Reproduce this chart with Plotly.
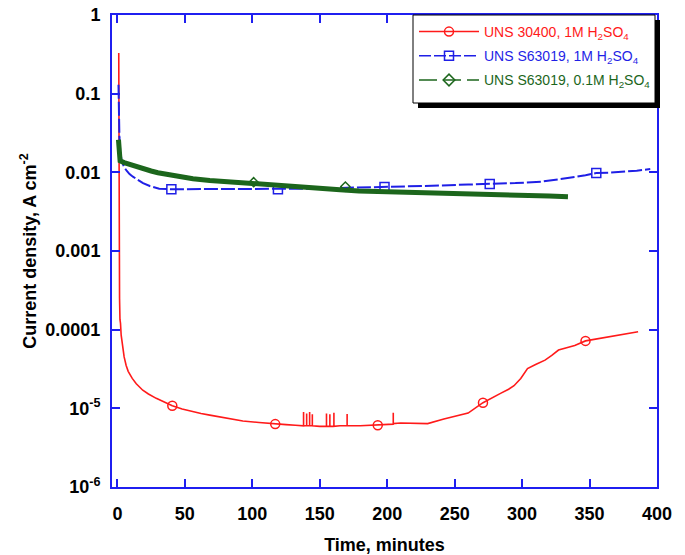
import plotly.graph_objects as go

# ---- UNS 30400 in 1M H2SO4 (minutes, A cm^-2)
t_304 = [1.0, 1.1, 1.3, 1.6, 1.9, 2.3, 2.8, 3.3, 4, 5, 6.5, 8, 11, 14, 18.8, 23, 28.8, 35,
         40.7, 48, 55, 62, 68.5, 80, 93, 105, 117, 125, 132, 136,
         138, 138, 138, 140.3, 140.3, 140.3, 142.5, 142.5, 142.5, 144.5, 144.5, 144.5,
         150, 155, 155, 155, 157.5, 157.5, 157.5, 160.5, 160.5, 160.5, 165, 170.3, 170.3, 170.3,
         180, 193, 200, 204.5, 204.5, 204.5, 210, 220, 230, 242, 250, 260, 271, 278, 284,
         290, 294, 299, 304, 310, 317, 322, 327, 333, 339, 347, 353, 359, 366, 373, 380, 386]
i_304 = [0.33, 0.02, 1.5e-3, 2.5e-4, 1.35e-4, 1.2e-4, 8.5e-5, 7.0e-5, 5.7e-5, 4.5e-5, 3.5e-5,
         2.95e-5, 2.4e-5, 2.05e-5, 1.7e-5, 1.52e-5, 1.34e-5, 1.2e-5,
         1.08e-5, 9.8e-6, 9.1e-6, 8.6e-6, 8.2e-6, 7.5e-6, 6.9e-6, 6.6e-6, 6.3e-6, 6.2e-6, 6.1e-6, 6.0e-6,
         6.0e-6, 9.0e-6, 6.0e-6, 6.0e-6, 8.6e-6, 6.0e-6, 6.0e-6, 9.0e-6, 6.0e-6, 6.0e-6, 8.4e-6, 6.0e-6,
         5.9e-6, 5.9e-6, 8.6e-6, 5.9e-6, 5.9e-6, 8.4e-6, 5.9e-6, 5.9e-6, 8.8e-6, 5.9e-6, 6.0e-6, 6.0e-6, 8.5e-6, 6.0e-6,
         6.0e-6, 6.1e-6, 6.2e-6, 6.3e-6, 8.8e-6, 6.4e-6, 6.5e-6, 6.5e-6, 6.4e-6, 7.3e-6, 7.9e-6, 8.7e-6, 1.18e-5, 1.38e-5, 1.55e-5,
         1.75e-5, 1.94e-5, 2.4e-5, 3.2e-5, 3.6e-5, 4.1e-5, 4.7e-5, 5.5e-5, 5.9e-5, 6.3e-5, 7.2e-5, 7.5e-5, 7.85e-5, 8.3e-5, 8.7e-5, 9.0e-5, 9.4e-5]
t_304_mk = [40.7, 117, 193, 271, 347]
i_304_mk = [1.08e-5, 6.3e-6, 6.1e-6, 1.18e-5, 7.2e-5]

# ---- UNS S63019 in 1M H2SO4
t_s1 = [0.8, 1.0, 1.1, 1.5, 2, 3, 4, 5, 7, 9, 11.5, 14, 19, 24, 31, 40, 60, 80, 100, 119,
        140, 160, 180, 198, 220, 240, 260, 276, 295, 314, 327, 339, 347, 355, 365, 375, 385, 395]
i_s1 = [0.13, 0.07, 0.032, 0.028, 0.02, 0.0145, 0.0128, 0.0116, 0.0104, 0.0095, 0.0088, 0.0082,
        0.0073, 0.0067, 0.0062, 0.0061, 0.0061, 0.0061, 0.0061, 0.0061,
        0.0062, 0.0063, 0.0064, 0.0065, 0.0066, 0.0068, 0.0070, 0.0071, 0.0073, 0.0076, 0.0081,
        0.0087, 0.0092, 0.0098, 0.0099, 0.0101, 0.0105, 0.0110]
t_s1_mk = [40, 119, 198, 276, 355]
i_s1_mk = [0.0061, 0.0061, 0.0065, 0.0071, 0.0098]

# ---- UNS S63019 in 0.1M H2SO4
t_s01 = [0.8, 1.0, 1.3, 2, 5, 10, 15, 19, 25, 30, 37, 44, 56, 68.5, 85, 101, 120, 143, 165,
         179, 200, 220, 240, 260, 280, 300, 320, 334]
i_s01 = [0.026, 0.02, 0.015, 0.0140, 0.0133, 0.0124, 0.0116, 0.0110, 0.0104, 0.0099, 0.0094,
         0.0089, 0.0083, 0.0079, 0.0075, 0.0073, 0.0069, 0.0064, 0.0060,
         0.0058, 0.0057, 0.0056, 0.0054, 0.0053, 0.0052, 0.0051, 0.0050, 0.0049]
t_s01_mk = [101, 169]
i_s01_mk = [0.0075, 0.0066]

x_ticks = [0, 50, 100, 150, 200, 250, 300, 350, 400]
y_ticks = [1, 0.1, 0.01, 0.001, 0.0001, 1e-5, 1e-6]
y_tick_text = ["1", "0.1", "0.01", "0.001", "0.0001", "10<sup>-5</sup>", "10<sup>-6</sup>"]

RED = "#ff1a1a"
BLUE = "#1f1fe6"
GREEN = "#1c661c"
FRAME = "#1f1ff0"
FONT = "Liberation Sans, Arial, sans-serif"

series = [
    dict(name="UNS 30400, 1M H<sub>2</sub>SO<sub>4</sub>", color=RED, t=t_304, i=i_304,
         tm=t_304_mk, im=i_304_mk, symbol="circle-open", msize=9, width=1.6, dash="solid", grp="a"),
    dict(name="UNS S63019, 1M H<sub>2</sub>SO<sub>4</sub>", color=BLUE, t=t_s1, i=i_s1,
         tm=t_s1_mk, im=i_s1_mk, symbol="square-open", msize=9, width=2.0, dash="14px,3px", grp="b"),
    dict(name="UNS S63019, 0.1M H<sub>2</sub>SO<sub>4</sub>", color=GREEN, t=t_s01, i=i_s01,
         tm=t_s01_mk, im=i_s01_mk, symbol="diamond-open", msize=7, width=5.0, dash="solid", grp="c"),
]

fig = go.Figure()
for s in series:
    fig.add_trace(go.Scatter(x=s["t"], y=s["i"], mode="lines", showlegend=False,
                             legendgroup=s["grp"],
                             line=dict(color=s["color"], width=s["width"], dash=s["dash"])))
    fig.add_trace(go.Scatter(x=s["tm"], y=s["im"], mode="markers", showlegend=False,
                             legendgroup=s["grp"],
                             marker=dict(symbol=s["symbol"], size=s["msize"], color=s["color"],
                                         line=dict(width=1.5, color=s["color"]))))
for s, d in zip(series, ["solid", "12px,3px", "18px,6px"]):
    fig.add_trace(go.Scatter(x=[None], y=[None], mode="lines+markers", legendgroup=s["grp"],
                             name=f'<span style="color:{s["color"]}">{s["name"]}</span>',
                             line=dict(color=s["color"], width=1.5, dash=d),
                             marker=dict(symbol=s["symbol"], size=9, color=s["color"],
                                         line=dict(width=1.5, color=s["color"]))))

axis_common = dict(showline=True, linecolor=FRAME, linewidth=2, mirror="ticks",
                   ticks="inside", ticklen=8, tickwidth=2, tickcolor=FRAME,
                   showgrid=False, zeroline=False, automargin=False,
                   tickfont=dict(family=FONT, size=18, color="black", weight="bold"))

fig.update_xaxes(range=[-4, 400], tickvals=x_ticks, ticklabelstandoff=9,
                 title=dict(text="Time, minutes", standoff=27,
                            font=dict(family=FONT, size=18, color="black", weight="bold")),
                 **axis_common)
fig.update_yaxes(type="log", range=[-6, 0], tickvals=y_ticks, ticktext=y_tick_text,
                 ticklabelstandoff=6,
                 title=dict(text="Current density, A cm<sup>-2</sup>", standoff=4,
                            font=dict(family=FONT, size=18, color="black", weight="bold")),
                 **axis_common)

W, H = 685, 555
ML, MR, MT, MB = 112, 28, 15, 68
pw, ph = W - ML - MR, H - MT - MB

def px(x):
    return (x - ML) / pw

def py(y):
    return 1 - (y - MT) / ph

# legend frame with a drop shadow; the legend entries sit on top of it
fig.add_shape(type="rect", xref="paper", yref="paper",
              x0=px(418), x1=px(660), y0=py(108), y1=py(20),
              fillcolor="black", line=dict(width=0), layer="above")
fig.add_shape(type="rect", xref="paper", yref="paper",
              x0=px(413), x1=px(655), y0=py(103), y1=py(15),
              fillcolor="white", line=dict(color="black", width=1), layer="above")

fig.update_layout(
    width=W, height=H,
    margin=dict(l=ML, r=MR, t=MT, b=MB),
    paper_bgcolor="white", plot_bgcolor="white",
    font=dict(family=FONT),
    legend=dict(x=px(414), y=py(16), xanchor="left", yanchor="top",
                bgcolor="rgba(0,0,0,0)", borderwidth=0,
                font=dict(family=FONT, size=14), tracegroupgap=3, itemwidth=60,
                traceorder="grouped"),
)

fig.write_html("out.html")
